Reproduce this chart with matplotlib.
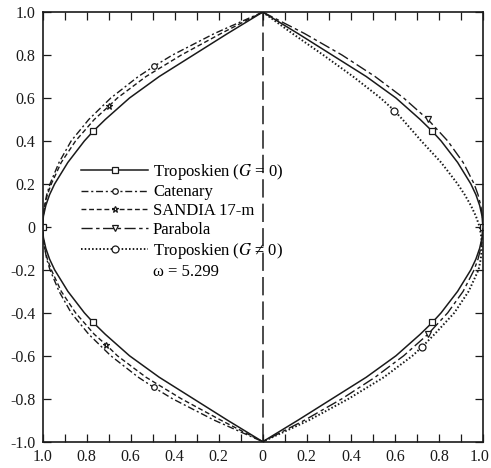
import matplotlib.pyplot as plt
from matplotlib.lines import Line2D
from matplotlib.ticker import MultipleLocator
from matplotlib.transforms import ScaledTranslation

plt.rcParams['font.family'] = ['Liberation Serif', 'DejaVu Serif']
plt.rcParams['mathtext.fontset'] = 'stix'

# blade profiles: height y and radius r
t0_y = [1.0, 0.9, 0.8, 0.7, 0.6, 0.5, 0.445, 0.4, 0.3, 0.2, 0.15, 0.1, 0.05, 0.0,
        -0.05, -0.1, -0.15, -0.2, -0.3, -0.4, -0.445, -0.5, -0.6, -0.7, -0.8, -0.9, -1.0]
t0_r = [0.0, 0.16, 0.315, 0.47, 0.605, 0.715, 0.77, 0.81, 0.885, 0.945, 0.968, 0.985, 0.996, 1.0,
        0.996, 0.985, 0.968, 0.945, 0.885, 0.81, 0.77, 0.715, 0.605, 0.47, 0.315, 0.16, 0.0]
t0_mark_y = [0.445, 0.0, -0.445]

cat_y = [1.0, 0.9, 0.8, 0.747, 0.7, 0.6, 0.5, 0.4, 0.3, 0.2, 0.15, 0.1, 0.05, 0.0,
         -0.05, -0.1, -0.15, -0.2, -0.3, -0.4, -0.5, -0.6, -0.7, -0.747, -0.8, -0.9, -1.0]
cat_r = [0.0, 0.22, 0.41, 0.495, 0.565, 0.69, 0.79, 0.87, 0.925, 0.966, 0.981, 0.99, 0.998, 1.0,
         0.998, 0.99, 0.981, 0.966, 0.925, 0.87, 0.79, 0.69, 0.565, 0.495, 0.41, 0.22, 0.0]
cat_mark_y = [0.747, -0.747]

san_y = [1.0, 0.9, 0.8, 0.7, 0.6, 0.561, 0.5, 0.4, 0.3, 0.2, 0.15, 0.1, 0.05, 0.0,
         -0.05, -0.1, -0.15, -0.2, -0.3, -0.4, -0.5, -0.55, -0.6, -0.7, -0.8, -0.9, -1.0]
san_r = [0.0, 0.19, 0.37, 0.53, 0.66, 0.70, 0.765, 0.85, 0.915, 0.96, 0.978, 0.99, 0.997, 1.0,
         0.997, 0.99, 0.978, 0.96, 0.915, 0.85, 0.765, 0.71, 0.66, 0.53, 0.37, 0.19, 0.0]
san_mark_y = [0.561, -0.55]

par_y = [1.0, 0.9, 0.8, 0.7, 0.6, 0.5, 0.4, 0.3, 0.2, 0.15, 0.1, 0.05, 0.0,
         -0.05, -0.1, -0.15, -0.2, -0.3, -0.4, -0.5, -0.6, -0.7, -0.8, -0.9, -1.0]
par_r = [0.0, 0.19, 0.36, 0.51, 0.64, 0.75, 0.84, 0.91, 0.96, 0.9775, 0.99, 0.9975, 1.0,
         0.9975, 0.99, 0.9775, 0.96, 0.91, 0.84, 0.75, 0.64, 0.51, 0.36, 0.19, 0.0]
par_mark_y = [0.5, -0.5]

g_y = [1.0, 0.9, 0.8, 0.7, 0.6, 0.541, 0.5, 0.4, 0.3, 0.2, 0.15, 0.1, 0.05, 0.0,
       -0.05, -0.1, -0.15, -0.2, -0.3, -0.4, -0.5, -0.558, -0.6, -0.7, -0.8, -0.9, -1.0]
g_r = [0.0, 0.135, 0.275, 0.41, 0.535, 0.598, 0.635, 0.72, 0.81, 0.885, 0.917, 0.945, 0.968, 0.985,
       0.993, 0.995, 0.99, 0.98, 0.935, 0.87, 0.78, 0.724, 0.68, 0.55, 0.39, 0.21, 0.0]
g_mark_y = [0.541, -0.558]

x_ticks = [-1.0, -0.8, -0.6, -0.4, -0.2, 0.0, 0.2, 0.4, 0.6, 0.8, 1.0]
x_labels = ['1.0', '0.8', '0.6', '0.4', '0.2', '0', '0.2', '0.4', '0.6', '0.8', '1.0']
y_ticks = [-1.0, -0.8, -0.6, -0.4, -0.2, 0.0, 0.2, 0.4, 0.6, 0.8, 1.0]
y_labels = ['-1.0', '-0.8', '-0.6', '-0.4', '-0.2', '0', '0.2', '0.4', '0.6', '0.8', '1.0']

labels = ['Troposkien ($G$ = 0)', 'Catenary', 'SANDIA 17-m', 'Parabola',
          'Troposkien ($G$ \u2260 0)', '\u03c9 = 5.299']


def marks(ys, wanted):
    return [ys.index(v) for v in wanted]


ink = '#1a1a1a'
fig = plt.figure(figsize=(4.91, 4.68), dpi=100)
ax = fig.add_axes([0.0866, 0.0562, 0.897, 0.918])

ax.axvline(0, color=ink, lw=1.1, dashes=(12, 4))

mk = dict(markerfacecolor='white', markeredgecolor=ink, markeredgewidth=0.9)

# left half: G=0, catenary, SANDIA
l_t0, = ax.plot([-r for r in t0_r], t0_y, color=ink, lw=1.1, marker='s', ms=4.5,
                markevery=marks(t0_y, t0_mark_y), **mk)
l_cat, = ax.plot([-r for r in cat_r], cat_y, color=ink, lw=1.0, dashes=(5, 2, 1.5, 2),
                 marker='o', ms=4, markevery=marks(cat_y, cat_mark_y), **mk)
l_san, = ax.plot([-r for r in san_r], san_y, color=ink, lw=1.0, dashes=(3.5, 2),
                 marker='*', ms=5, markevery=marks(san_y, san_mark_y), **mk)

# right half: G=0, parabola, G!=0
ax.plot(t0_r, t0_y, color=ink, lw=1.1, marker='s', ms=4.5,
        markevery=marks(t0_y, t0_mark_y), **mk)
l_par, = ax.plot(par_r, par_y, color=ink, lw=1.0, dashes=(8, 2.5, 2.5, 2.5),
                 marker='v', ms=4.5, markevery=marks(par_y, par_mark_y), **mk)
l_g, = ax.plot(g_r, g_y, color=ink, lw=1.4, dashes=(0.8, 1.1),
               marker='o', ms=5, markevery=marks(g_y, g_mark_y), **mk)

ax.set_xlim(-1, 1)
ax.set_ylim(-1, 1)
ax.set_xticks(x_ticks, x_labels)
ax.set_yticks(y_ticks, y_labels)
ax.xaxis.set_minor_locator(MultipleLocator(0.1))
ax.tick_params(which='both', direction='in', top=True, right=True, length=6,
               width=0.9, color=ink, labelsize=11.5, labelcolor=ink)
ax.tick_params(axis='x', pad=5)
ax.tick_params(axis='y', pad=5)
for s in ax.spines.values():
    s.set_linewidth(1.2)
    s.set_color(ink)

# keep the right-hand "1.0" inside the canvas
last = ax.xaxis.get_major_ticks()[-1].label1
last.set_transform(last.get_transform() + ScaledTranslation(-0.03, 0, fig.dpi_scale_trans))

handles = [l_t0, l_cat, l_san, l_par, l_g, Line2D([], [], linestyle='none')]
ax.legend(handles, labels, loc='upper left', bbox_to_anchor=(0.088, 0.652),
          frameon=False, handlelength=4.0, handletextpad=0.3, labelspacing=0.17,
          borderpad=0, borderaxespad=0, fontsize=12, numpoints=1)

fig.savefig('out.png', dpi=100)
